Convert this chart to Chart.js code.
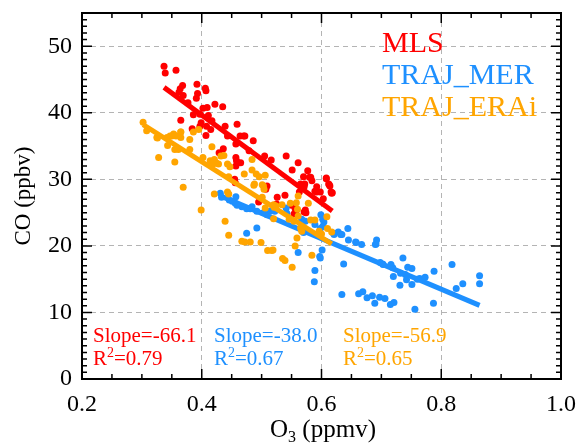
<!DOCTYPE html>
<html>
<head>
<meta charset="utf-8">
<script src="https://cdn.jsdelivr.net/npm/chart.js@4"></script>
<style>
html, body { margin: 0; padding: 0; background: #fff; }
canvas { display: block; }
</style>
</head>
<body>
<canvas id="chart" width="579" height="445"></canvas>
<script>
// series
const seriesNames = ["MLS", "TRAJ_MER", "TRAJ_ERAi"];
const seriesColors = ["#ff0000", "#1e90ff", "#ffa500"];
const slopes = [-66.1, -38.0, -56.9];
const intercepts = [66.1, 43.9, 55.4];
const rSquared = [0.79, 0.67, 0.65];

const xTicks = [0.2, 0.4, 0.6, 0.8, 1.0];
const yTicks = [0, 10, 20, 30, 40, 50];

const mlsX = [0.337,0.339,0.357,0.368,0.364,0.362,0.369,0.392,0.406,0.407,0.393,0.391,0.377,0.402,0.409,0.422,0.435,0.386,0.397,0.365,
  0.411,0.417,0.399,0.397,0.384,0.408,0.415,0.407,0.439,0.443,0.459,0.464,0.470,0.472,0.486,0.457,0.479,0.436,0.429,0.457,
  0.458,0.465,0.457,0.505,0.516,0.541,0.561,0.551,0.577,0.570,0.582,0.584,0.608,0.612,0.614,0.618,0.592,0.571,0.455,0.526,
  0.539,0.507,0.495,0.525,0.550,0.556,0.554,0.571,0.573,0.519,0.558,0.574,0.603,0.563,0.580,0.572,0.565,0.589,0.592,0.598,
  0.608,0.613,0.616,0.617,0.456,0.509];
const mlsY = [47.0,46.0,46.4,44.1,43.6,43.1,42.6,44.3,43.7,43.3,42.9,42.2,41.5,40.7,40.8,41.3,40.9,39.7,39.8,38.9,
  39.6,38.8,38.5,38.0,37.6,38.0,37.5,36.6,38.0,36.5,38.3,36.5,36.5,36.5,35.8,35.3,34.3,34.6,34.0,33.3,
  32.8,32.5,32.0,33.5,32.9,33.5,32.5,31.4,31.3,30.4,30.3,29.8,30.2,29.3,29.0,28.0,28.9,28.9,30.0,27.3,
  27.6,28.5,26.6,26.3,26.1,25.6,24.8,25.1,25.4,26.0,25.4,25.0,27.1,28.1,30.3,29.3,29.3,28.2,28.1,28.1,
  30.1,29.2,28.1,27.9,29.5,29.0];

const merX = [0.431,0.433,0.446,0.451,0.456,0.457,0.459,0.467,0.475,0.481,0.484,0.492,0.503,0.509,0.514,0.475,0.492,0.519,0.522,0.541,
  0.542,0.567,0.573,0.599,0.602,0.604,0.589,0.570,0.598,0.602,0.620,0.628,0.632,0.644,0.645,0.657,0.667,0.692,0.691,0.601,
  0.597,0.598,0.589,0.588,0.561,0.637,0.698,0.702,0.719,0.621,0.634,0.658,0.690,0.716,0.736,0.744,0.751,0.720,0.732,0.740,
  0.742,0.731,0.751,0.760,0.764,0.773,0.788,0.818,0.825,0.836,0.864,0.864,0.634,0.662,0.669,0.676,0.685,0.689,0.697,0.706,
  0.715,0.721,0.756,0.787,0.703];
const merY = [27.9,27.3,26.9,26.7,26.4,27.4,26.1,25.9,25.6,25.6,25.9,25.2,25.0,24.7,25.2,21.9,22.7,25.5,25.2,25.7,
  24.9,24.0,23.7,24.7,24.0,23.6,23.2,22.0,22.6,22.9,21.9,22.1,21.7,22.6,20.9,20.6,20.2,20.9,20.3,19.4,
  18.4,18.2,16.3,14.6,19.0,17.3,17.5,17.3,16.7,21.7,21.7,20.5,20.2,17.2,18.2,16.8,16.6,15.4,15.9,15.7,
  14.9,14.1,14.2,15.0,15.1,15.3,16.2,17.2,13.6,14.3,15.5,14.3,12.7,12.8,13.1,12.2,12.5,11.4,12.3,12.1,
  11.2,11.5,10.5,11.4,17.2];

const eraX = [0.302,0.308,0.325,0.342,0.350,0.353,0.365,0.380,0.326,0.343,0.347,0.357,0.365,0.365,0.355,0.361,0.328,0.355,0.386,0.395,
  0.380,0.369,0.402,0.417,0.414,0.421,0.424,0.428,0.419,0.432,0.437,0.443,0.447,0.445,0.421,0.443,0.445,0.471,0.484,0.484,
  0.491,0.496,0.506,0.488,0.503,0.504,0.561,0.399,0.439,0.445,0.467,0.472,0.481,0.499,0.510,0.517,0.487,0.501,0.501,0.506,
  0.520,0.524,0.520,0.534,0.548,0.558,0.560,0.578,0.546,0.554,0.565,0.582,0.589,0.609,0.596,0.610,0.617,0.559,0.556,0.519,
  0.584,0.535,0.539,0.551,0.600,0.521,0.561,0.567];
const eraY = [38.6,37.3,36.3,36.3,36.5,36.8,37.1,36.0,36.2,35.1,36.5,36.5,37.1,36.3,34.5,34.5,33.3,32.6,37.1,37.5,
  34.5,28.8,33.3,34.9,32.8,33.0,32.5,32.3,32.3,33.5,33.6,32.3,31.9,30.4,27.8,28.1,27.8,30.8,33.0,31.4,
  30.8,30.4,30.6,29.3,29.0,28.5,27.5,25.4,23.7,21.6,20.7,20.6,20.6,20.5,19.3,19.3,29.1,29.2,27.3,25.7,
  24.1,26.0,26.2,26.2,26.4,26.5,25.5,26.4,24.0,23.7,22.7,23.9,23.9,24.4,22.2,22.6,22.1,21.2,20.0,19.4,
  18.6,18.1,17.8,16.8,21.8,25.8,24.5,22.2];

const xs = [mlsX, merX, eraX];
const ys = [mlsY, merY, eraY];

const serif = "'Liberation Serif', 'Times New Roman', serif";

const datasets = [];
seriesNames.forEach((name, i) => {
    const pts = xs[i].map((v, k) => ({ x: v, y: ys[i][k] }));
    const x0 = Math.min(...xs[i]);
    const x1 = Math.max(...xs[i]);
    datasets.push({
        type: "scatter",
        label: name,
        data: pts,
        backgroundColor: seriesColors[i],
        borderWidth: 0,
        pointRadius: 3.5,
        pointHoverRadius: 3.5,
        order: 10 - 2 * i
    });
    datasets.push({
        type: "line",
        label: name + " fit",
        data: [
            { x: x0, y: intercepts[i] + slopes[i] * x0 },
            { x: x1, y: intercepts[i] + slopes[i] * x1 }
        ],
        borderColor: seriesColors[i],
        borderWidth: 5,
        pointRadius: 0,
        fill: false,
        order: 9 - 2 * i
    });
});

// frame, inward ticks and the text labels
const decorations = {
    id: "decorations",
    afterDatasetsDraw(chart) {
        const ctx = chart.ctx;
        const a = chart.chartArea;
        const x = chart.scales.x;
        const y = chart.scales.y;
        ctx.save();
        ctx.strokeStyle = "#000";
        ctx.lineWidth = 1.5;
        ctx.beginPath();
        for (let k = 0; k <= 16; k++) {
            const v = 0.2 + k * 0.05;
            const px = x.getPixelForValue(v);
            const len = k % 4 === 0 ? 10 : 5;
            ctx.moveTo(px, a.bottom); ctx.lineTo(px, a.bottom - len);
            ctx.moveTo(px, a.top); ctx.lineTo(px, a.top + len);
        }
        for (let v = 0; v <= 55; v++) {
            const py = y.getPixelForValue(v);
            const len = v % 10 === 0 ? 10 : 5;
            ctx.moveTo(a.left, py); ctx.lineTo(a.left + len, py);
            ctx.moveTo(a.right, py); ctx.lineTo(a.right - len, py);
        }
        ctx.stroke();
        ctx.lineWidth = 2;
        ctx.strokeRect(a.left, a.top, a.right - a.left, a.bottom - a.top);
        ctx.restore();
    },
    afterDraw(chart) {
        const ctx = chart.ctx;
        ctx.save();
        ctx.textBaseline = "alphabetic";
        ctx.textAlign = "left";

        // legend text
        ctx.font = "30px " + serif;
        seriesNames.forEach((name, i) => {
            ctx.fillStyle = seriesColors[i];
            ctx.fillText(name, 382, 52 + i * 32);
        });

        // slope / R2 notes
        const noteX = [93, 214, 343];
        seriesNames.forEach((name, i) => {
            ctx.fillStyle = seriesColors[i];
            ctx.font = "21px " + serif;
            ctx.fillText("Slope=" + slopes[i].toFixed(1), noteX[i], 342);
            let px = noteX[i];
            ctx.fillText("R", px, 365);
            px += ctx.measureText("R").width;
            ctx.font = "14px " + serif;
            ctx.fillText("2", px, 357);
            px += ctx.measureText("2").width;
            ctx.font = "21px " + serif;
            ctx.fillText("=" + rSquared[i].toFixed(2), px, 365);
        });

        // axis titles
        ctx.fillStyle = "#000";
        ctx.font = "25px " + serif;
        const w1 = ctx.measureText("O").width;
        const w3 = ctx.measureText(" (ppmv)").width;
        ctx.font = "16px " + serif;
        const w2 = ctx.measureText("3").width;
        let tx = 323 - (w1 + w2 + w3) / 2;
        ctx.font = "25px " + serif;
        ctx.fillText("O", tx, 437);
        tx += w1;
        ctx.font = "16px " + serif;
        ctx.fillText("3", tx, 442);
        tx += w2;
        ctx.font = "25px " + serif;
        ctx.fillText(" (ppmv)", tx, 437);

        ctx.font = "23px " + serif;
        ctx.translate(30, 196);
        ctx.rotate(-Math.PI / 2);
        ctx.textAlign = "center";
        ctx.fillText("CO (ppbv)", 0, 0);
        ctx.restore();
    }
};

new Chart(document.getElementById("chart"), {
    type: "scatter",
    data: { datasets: datasets },
    options: {
        responsive: false,
        animation: false,
        events: [],
        layout: { padding: { top: 13, right: 18, left: 0, bottom: 0 } },
        plugins: {
            legend: { display: false },
            tooltip: { enabled: false }
        },
        scales: {
            x: {
                type: "linear",
                min: 0.2,
                max: 1.0,
                afterBuildTicks: (scale) => { scale.ticks = xTicks.map(v => ({ value: v })); },
                afterFit: (scale) => {
                    scale.height = 66;
                    scale.paddingLeft = 0;
                    scale.paddingRight = 0;
                },
                border: { display: false, dash: [5, 4] },
                grid: {
                    drawTicks: false,
                    color: (c) => (c.tick && (c.tick.value === 0.2 || c.tick.value === 1.0)) ? "rgba(0,0,0,0)" : "#b4b4b4",
                    lineWidth: 1
                },
                ticks: {
                    color: "#000",
                    padding: 11,
                    font: { family: serif, size: 24 },
                    callback: (v) => Number(v).toFixed(1)
                }
            },
            y: {
                type: "linear",
                min: 0,
                max: 55,
                afterBuildTicks: (scale) => { scale.ticks = yTicks.map(v => ({ value: v })); },
                afterFit: (scale) => {
                    scale.width = 82;
                    scale.paddingTop = 0;
                    scale.paddingBottom = 0;
                },
                border: { display: false, dash: [5, 4] },
                grid: {
                    drawTicks: false,
                    color: (c) => (c.tick && c.tick.value === 0) ? "rgba(0,0,0,0)" : "#b4b4b4",
                    lineWidth: 1
                },
                ticks: {
                    color: "#000",
                    padding: 10,
                    font: { family: serif, size: 24 },
                    callback: (v) => String(v)
                }
            }
        }
    },
    plugins: [decorations]
});
</script>
</body>
</html>
